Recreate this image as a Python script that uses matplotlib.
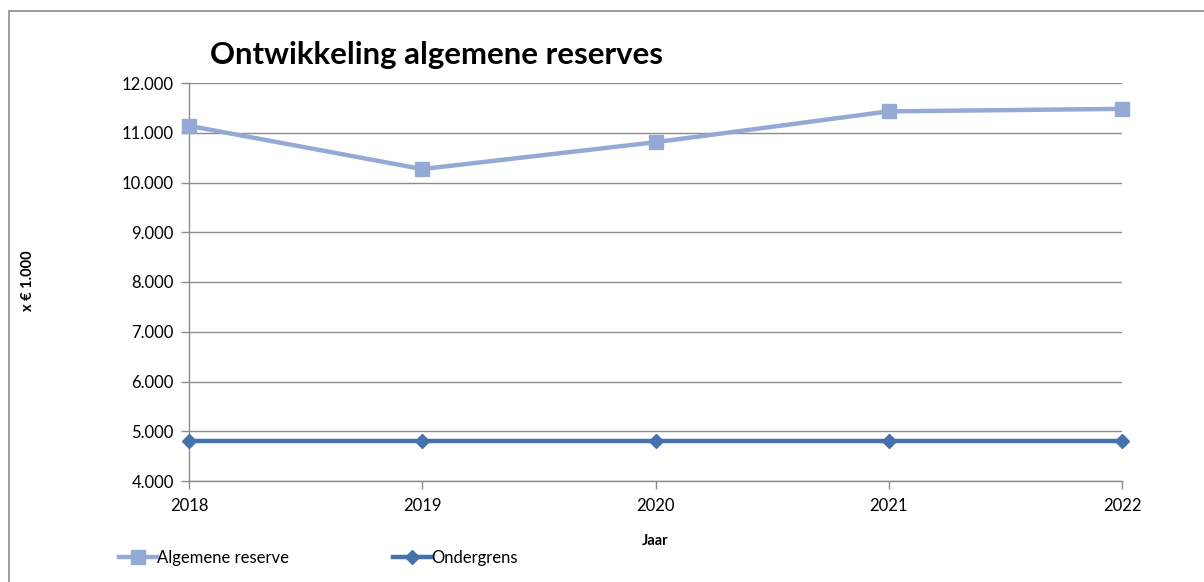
import matplotlib
matplotlib.use("Agg")
import matplotlib.pyplot as plt
from matplotlib.patches import Rectangle
from matplotlib.ticker import FuncFormatter

years = [2018, 2019, 2020, 2021, 2022]
algemene_reserve = [11140, 10270, 10810, 11430, 11480]
ondergrens = [4800, 4800, 4800, 4800, 4800]
yticks = [4000, 5000, 6000, 7000, 8000, 9000, 10000, 11000, 12000]

plt.rcParams['font.family'] = ['Lato', 'DejaVu Sans']

fig = plt.figure(figsize=(12.04, 5.82), dpi=100)
fig.patches.append(Rectangle((9/1204, -0.05), 1.1, 1.05 - 11/582, transform=fig.transFigure,
                             fill=False, edgecolor='#8c8c8c', linewidth=1.2))

ax = fig.add_axes([189/1204, 1 - 481/582, (1122 - 189)/1204, (481 - 83)/582])

light = '#94A9D3'
dark = '#4572AC'
ax.plot(years, algemene_reserve, color=light, linewidth=3.2, marker='s', markersize=9.5,
        label='Algemene reserve', zorder=3, clip_on=False)
ax.plot(years, ondergrens, color=dark, linewidth=3.2, marker='D', markersize=7.5,
        label='Ondergrens', zorder=3, clip_on=False)

ax.set_xlim(2018, 2022)
ax.set_ylim(4000, 12000)
ax.set_xticks(years)
ax.set_yticks(yticks)
ax.yaxis.set_major_formatter(FuncFormatter(lambda v, p: f"{int(v):,}".replace(",", ".")))
ax.grid(axis='y', color='#8c8c8c', linewidth=1)
ax.set_axisbelow(True)
for s in ['top', 'right']:
    ax.spines[s].set_visible(False)
for s in ['left', 'bottom']:
    ax.spines[s].set_color('#8c8c8c')
    ax.spines[s].set_linewidth(1)
ax.tick_params(axis='both', colors='#8c8c8c', labelcolor='black', labelsize=12, length=6, width=1)
ax.tick_params(axis='x', pad=6)
ax.tick_params(axis='y', pad=5)

fig.text(210/1204, 1 - 55/582, 'Ontwikkeling algemene reserves', fontsize=22.4, fontweight='bold',
         ha='left', va='center')
fig.text(28/1204, 1 - 281/582, 'x € 1.000', fontsize=10.5, fontweight='bold', rotation=90,
         ha='center', va='center')
fig.text(655/1204, 1 - 541/582, 'Jaar', fontsize=10.5, fontweight='bold', ha='center', va='center')

leg = fig.legend(loc='center left', bbox_to_anchor=(112/1204, 1 - 558/582), ncol=2, frameon=False,
                 fontsize=12, handlelength=2.3, handletextpad=0.0, columnspacing=6.25,
                 borderaxespad=0)

fig.savefig('out.png', dpi=100)
